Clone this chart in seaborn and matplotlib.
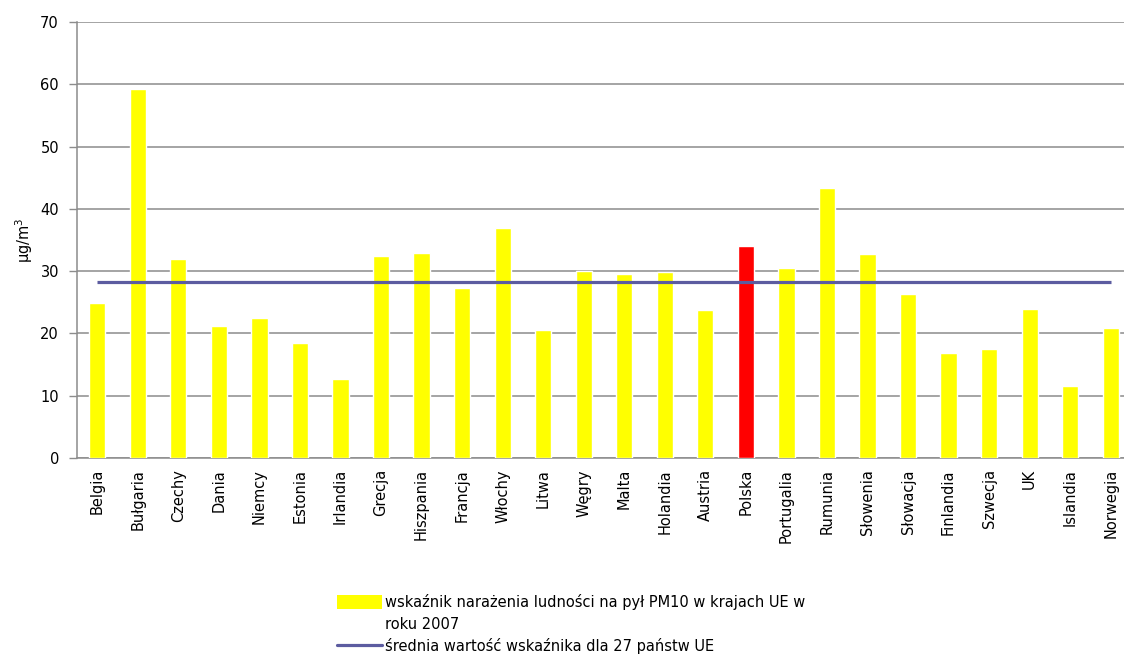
import matplotlib
matplotlib.use("Agg")
import matplotlib.pyplot as plt
from matplotlib.patches import Patch
from matplotlib.lines import Line2D
from matplotlib.ticker import FixedLocator
import seaborn as sns
import pandas as pd

# dane
countries = ["Belgia", "Bułgaria", "Czechy", "Dania", "Niemcy", "Estonia", "Irlandia",
             "Grecja", "Hiszpania", "Francja", "Włochy", "Litwa", "Węgry", "Malta",
             "Holandia", "Austria", "Polska", "Portugalia", "Rumunia", "Słowenia",
             "Słowacja", "Finlandia", "Szwecja", "UK", "Islandia", "Norwegia"]
pm10 = [24.9, 59.2, 32.0, 21.2, 22.4, 18.5, 12.7,
        32.4, 32.9, 27.3, 36.9, 20.5, 30.0, 29.6,
        29.9, 23.8, 34.0, 30.5, 43.4, 32.8,
        26.3, 16.9, 17.5, 24.0, 11.5, 20.8]
eu27_avg = 28.3
highlight = "Polska"

bar_color = "#ffff00"
hl_color = "#ff0000"
avg_color = "#5c5ca0"
grid_color = "#8c8c8c"

sns.set_style("white")
plt.rcParams["font.family"] = ["DejaVu Sans"]
plt.rcParams.update({"text.color": "black", "axes.labelcolor": "black",
                     "xtick.color": "black", "ytick.color": "black"})

df = pd.DataFrame({"kraj": countries, "pm10": pm10})
palette = {c: (hl_color if c == highlight else bar_color) for c in countries}

fig = plt.figure(figsize=(11.24, 6.57), dpi=100)
ax = fig.add_axes([77 / 1124, 1 - 458 / 657, 1054 / 1124, 436 / 657])

sns.barplot(data=df, x="kraj", y="pm10", hue="kraj", palette=palette,
            legend=False, width=0.4, saturation=1, ax=ax, zorder=3)

n = len(countries)
ax.hlines(eu27_avg, 0, n - 1, color=avg_color, lw=2.3, zorder=4)

ax.set_xlim(-0.5, n - 0.5)
ax.set_ylim(0, 70)
ax.set_yticks(range(0, 71, 10))
ax.yaxis.grid(True, color=grid_color, lw=1.1, zorder=0)
ax.set_axisbelow(True)

for side in ["top", "right"]:
    ax.spines[side].set_visible(False)
for side in ["left", "bottom"]:
    ax.spines[side].set_color(grid_color)
    ax.spines[side].set_linewidth(1.1)

ax.set_xlabel("")
ax.set_ylabel("µg/m$^3$", fontsize=10.5, labelpad=4)
ax.set_xticks(range(n))
ax.set_xticklabels(countries, rotation=90, fontsize=10.5, va="top")
ax.xaxis.set_minor_locator(FixedLocator([i - 0.5 for i in range(n + 1)]))
ax.tick_params(axis="x", which="major", length=0, pad=8)
ax.tick_params(axis="x", which="minor", length=5, color=grid_color, width=1, direction="out")
ax.tick_params(axis="y", length=6, color=grid_color, width=1, direction="out",
               labelsize=10.5, pad=7, left=True)

handles = [
    Patch(facecolor=bar_color, edgecolor="none"),
    Patch(facecolor="none", edgecolor="none"),
    Line2D([0], [0], color=avg_color, lw=2.3),
]
labels = [
    "wskaźnik narażenia ludności na pył PM10 w krajach UE w",
    "roku 2007",
    "średnia wartość wskaźnika dla 27 państw UE",
]
fig.legend(handles, labels, loc="upper left", bbox_to_anchor=(337 / 1124, 1 - 594 / 657),
           frameon=False, fontsize=10.5, handlelength=3.1, handleheight=1.0,
           handletextpad=0.2, labelspacing=0.45, borderpad=0, borderaxespad=0)

fig.savefig("out.png", dpi=100, facecolor="white")
